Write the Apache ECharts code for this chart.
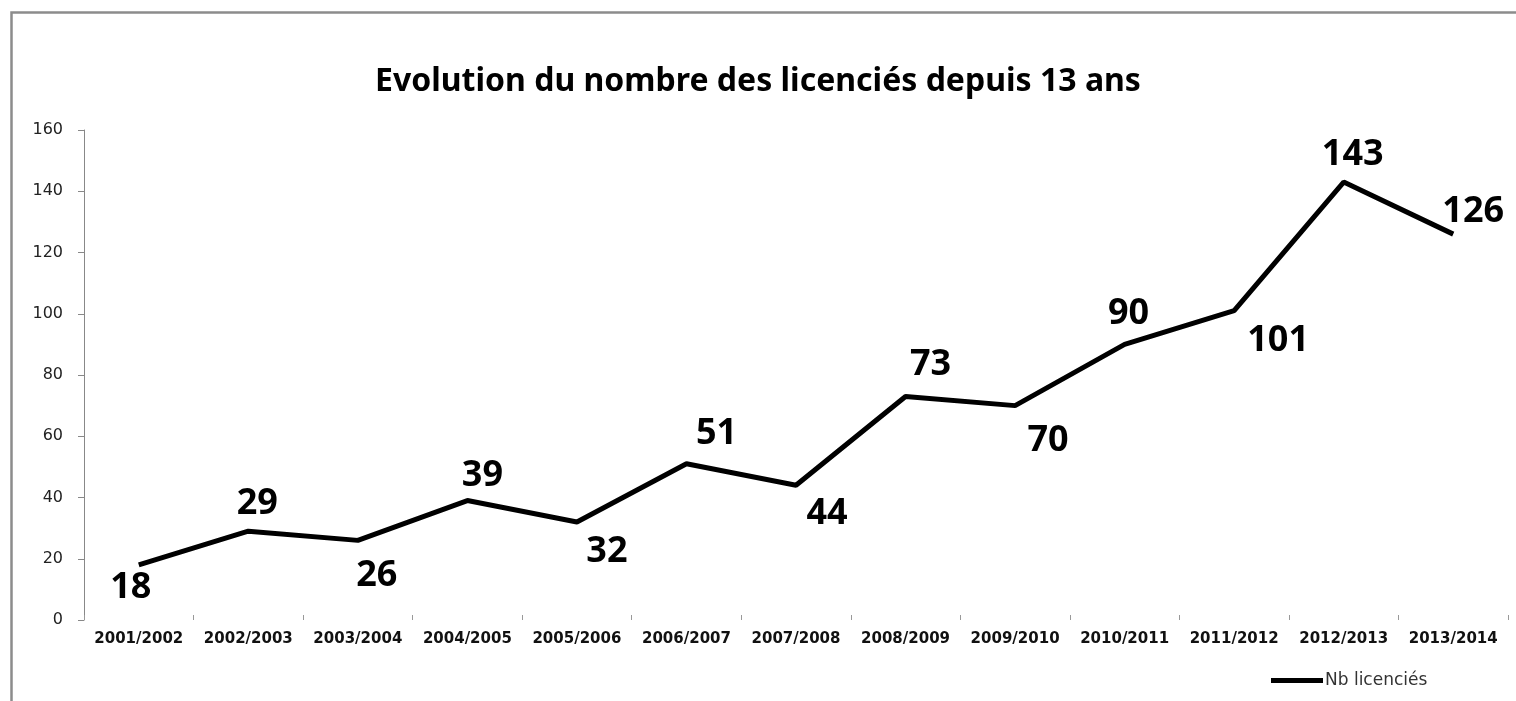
<!DOCTYPE html>
<html>
<head>
<meta charset="utf-8">
<script src="https://cdn.jsdelivr.net/npm/echarts@6/dist/echarts.min.js"></script>
<style>
html,body{margin:0;padding:0;background:#fff;}
#chart{width:1516px;height:701px;}
</style>
</head>
<body>
<div id="chart"></div>
<script>
const categories = ['2001/2002','2002/2003','2003/2004','2004/2005','2005/2006','2006/2007','2007/2008','2008/2009','2009/2010','2010/2011','2011/2012','2012/2013','2013/2014'];
const licencies = [18, 29, 26, 39, 32, 51, 44, 73, 70, 90, 101, 143, 126];
const seriesName = 'Nb licenciés';
const titleText = 'Evolution du nombre des licenciés depuis 13 ans';
// label placement offsets relative to each point (styling only)
const labelOffsets = [[-8,23],[9,-27],[19,35],[15,-25],[30,30],[30,-30],[31,28],[25,-32],[33,35],[4,-31],[44,30],[9,-27],[20,-22]];

const chart = echarts.init(document.getElementById('chart'), null, {renderer:'canvas'});
chart.setOption({
  animation:false,
  backgroundColor:'#fff',
  graphic:[{
    type:'rect', left:9, top:10, silent:true,
    shape:{x:0,y:0,width:1530,height:720},
    style:{fill:'none', stroke:'#8c8c8c', lineWidth:2.5}
  }],
  title:{
    text:titleText, left:'center', top:61,
    textStyle:{fontFamily:'Noto Sans', fontWeight:'bold', fontSize:32, color:'#000'}
  },
  legend:{
    data:[{name:seriesName, icon:'rect'}],
    left:1266, top:667, itemWidth:52, itemHeight:5, itemGap:2,
    textStyle:{fontFamily:'DejaVu Sans', fontSize:17, color:'#333', padding:[0,0,0,-3]}
  },
  grid:{left:84, right:8, top:130, bottom:81, containLabel:false},
  xAxis:{
    type:'category', data:categories, boundaryGap:true,
    axisLine:{show:false},
    axisTick:{show:true, length:5, inside:true, lineStyle:{color:'#999'}},
    axisLabel:{interval:0, margin:12, fontFamily:'DejaVu Sans', fontWeight:'bold', fontSize:15, color:'#111'},
    splitLine:{show:false}
  },
  yAxis:{
    type:'value', min:0, max:160, interval:20,
    axisLine:{show:true, lineStyle:{color:'#888', width:1}},
    axisTick:{show:true, length:6, lineStyle:{color:'#888'}},
    axisLabel:{margin:21, fontFamily:'DejaVu Sans', fontSize:16, color:'#222'},
    splitLine:{show:false}
  },
  series:[{
    name:seriesName, type:'line',
    data:licencies.map((v,i)=>({value:v, label:{offset:labelOffsets[i]}})),
    symbol:'circle', symbolSize:0.1, showSymbol:true,
    lineStyle:{color:'#000', width:5},
    itemStyle:{color:'#000'},
    label:{show:true, position:'inside', fontFamily:'Open Sans', fontWeight:'bold', fontSize:36, color:'#000'}
  }]
});
</script>
</body>
</html>
